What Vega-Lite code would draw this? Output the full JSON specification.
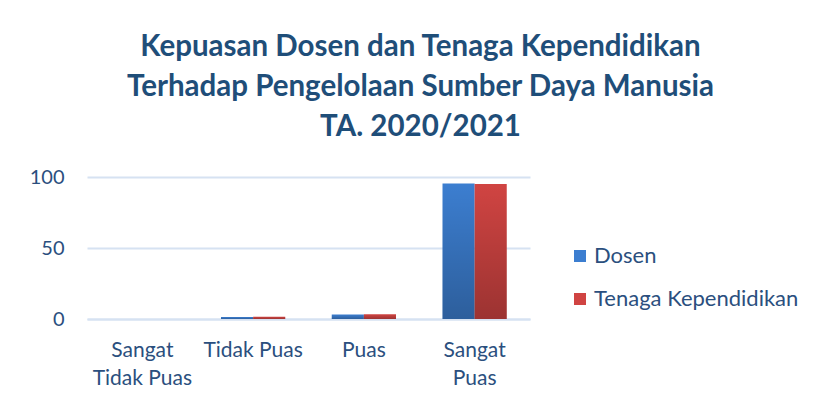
{
  "$schema": "https://vega.github.io/schema/vega-lite/v6.json",
  "width": 443,
  "height": 142,
  "autosize": {"type": "none"},
  "padding": {"left": 87, "top": 177, "right": 289, "bottom": 86},
  "background": "white",
  "title": {
    "text": ["Kepuasan Dosen dan Tenaga Kependidikan", "Terhadap Pengelolaan Sumber Daya Manusia", "TA. 2020/2021"],
    "font": "Lato",
    "fontSize": 29.5,
    "fontWeight": "bold",
    "color": "#1F4E79",
    "lineHeight": 40,
    "anchor": "middle",
    "dx": 112,
    "offset": 25
  },
  "data": {
    "values": [
      {"kategori": "Sangat Tidak Puas", "seri": "Dosen", "nilai": 0},
      {"kategori": "Sangat Tidak Puas", "seri": "Tenaga Kependidikan", "nilai": 0},
      {"kategori": "Tidak Puas", "seri": "Dosen", "nilai": 1.4},
      {"kategori": "Tidak Puas", "seri": "Tenaga Kependidikan", "nilai": 1.6},
      {"kategori": "Puas", "seri": "Dosen", "nilai": 3.2},
      {"kategori": "Puas", "seri": "Tenaga Kependidikan", "nilai": 3.3},
      {"kategori": "Sangat Puas", "seri": "Dosen", "nilai": 95.4},
      {"kategori": "Sangat Puas", "seri": "Tenaga Kependidikan", "nilai": 95.1}
    ]
  },
  "encoding": {
    "x": {
      "field": "kategori",
      "type": "nominal",
      "sort": ["Sangat Tidak Puas", "Tidak Puas", "Puas", "Sangat Puas"],
      "scale": {"paddingInner": 0.42, "paddingOuter": 0.21},
      "axis": {
        "title": null,
        "labelAngle": 0,
        "labelFont": "Lato",
        "labelFontSize": 21,
        "labelColor": "#2B4F7E",
        "labelPadding": 20,
        "labelLineHeight": 28,
        "labelExpr": "datum.value == 'Sangat Tidak Puas' ? ['Sangat', 'Tidak Puas'] : datum.value == 'Sangat Puas' ? ['Sangat', 'Puas'] : datum.value",
        "ticks": false,
        "domain": true,
        "domainColor": "#D6E2F2",
        "domainWidth": 2,
        "labelBaseline": "top"
      }
    },
    "xOffset": {"field": "seri", "type": "nominal", "scale": {"paddingInner": 0, "paddingOuter": 0}},
    "y": {
      "field": "nilai",
      "type": "quantitative",
      "scale": {"domain": [0, 100]},
      "axis": {
        "title": null,
        "values": [0, 50, 100],
        "labelFont": "Lato",
        "labelFontSize": 20,
        "labelColor": "#2B4F7E",
        "labelPadding": 23,
        "ticks": false,
        "domain": false,
        "grid": true,
        "gridColor": "#D6E2F2",
        "gridWidth": 2
      }
    }
  },
  "layer": [
    {
      "mark": {"type": "bar"},
      "encoding": {
        "color": {
          "field": "seri",
          "type": "nominal",
          "scale": {"domain": ["Dosen", "Tenaga Kependidikan"], "range": ["#3C7ED0", "#D04442"]},
          "legend": {
            "title": null,
            "orient": "none",
            "legendX": 482,
            "legendY": 68,
            "symbolType": "square",
            "symbolSize": 144,
            "symbolStrokeWidth": 0,
            "labelFont": "Lato",
            "labelFontSize": 22,
            "labelColor": "#2B4F7E",
            "labelLimit": 300,
            "rowPadding": 21,
            "labelOffset": 3
          }
        }
      }
    },
    {
      "mark": {
        "type": "bar",
        "color": {
          "gradient": "linear",
          "x1": 0, "y1": 0, "x2": 0, "y2": 1,
          "stops": [
            {"offset": 0, "color": "rgba(0,0,0,0)"},
            {"offset": 1, "color": "rgba(0,0,0,0.25)"}
          ]
        }
      }
    }
  ],
  "config": {"view": {"stroke": null}}
}
